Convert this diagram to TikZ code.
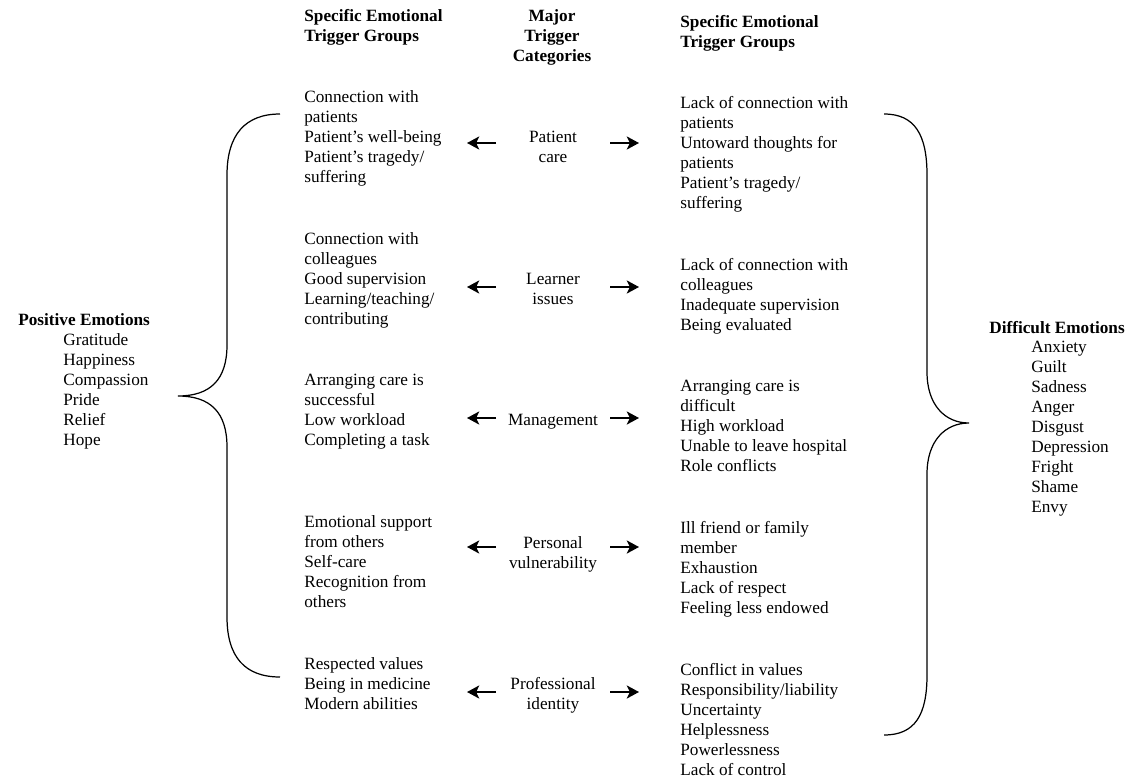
\documentclass[tikz,border=0pt]{standalone}
\usepackage{fontspec}
\setmainfont{Liberation Serif}
\usetikzlibrary{arrows.meta}

\tikzset{
  grp/.style={anchor=north west, align=left, inner sep=0pt, font=\fontsize{9.8}{11.4}\selectfont},
  cat/.style={anchor=north, align=center, inner sep=0pt, font=\fontsize{9.8}{11.4}\selectfont},
  hdr/.style={inner sep=0pt, font=\fontsize{9.8}{11.4}\selectfont\bfseries},
  trig/.style={-{Stealth[length=7pt,width=7.5pt,inset=1.8pt]}, line width=1pt},
  brc/.style={line width=0.7pt}
}

\begin{document}
\begin{tikzpicture}[x=0.02cm,y=-0.02cm]
		\useasboundingbox (0,0) rectangle (1142,781);
		
		% headers
		\node[hdr, anchor=north west, align=left] (hl) at (304,9) {Specific Emotional\\Trigger Groups};
		\node[hdr, anchor=north, align=center] (hm) at (552,9) {Major\\Trigger\\Categories};
		\node[hdr, anchor=north west, align=left] (hr) at (680,15) {Specific Emotional\\Trigger Groups};
		
		% categories
		\node[cat] (pc) at (553,131) {Patient\\care};
		\node[cat] (li) at (553,273) {Learner\\issues};
		\node[cat] (mg) at (553,414) {Management};
		\node[cat] (pv) at (553,536) {Personal\\vulnerability};
		\node[cat] (pi) at (553,677) {Professional\\identity};
		
		% positive side
		\node[grp] (pc-l) at (304,90) {Connection with\\patients\\Patient’s well-being\\Patient’s tragedy/\\suffering};
		\node[grp] (li-l) at (304,232) {Connection with\\colleagues\\Good supervision\\Learning/teaching/\\contributing};
		\node[grp] (mg-l) at (304,374) {Arranging care is\\successful\\Low workload\\Completing a task};
		\node[grp] (pv-l) at (304,515) {Emotional support\\from others\\Self-care\\Recognition from\\others};
		\node[grp] (pi-l) at (304,657) {Respected values\\Being in medicine\\Modern abilities};
		
		% difficult side
		\node[grp] (pc-r) at (680,96) {Lack of connection with\\patients\\Untoward thoughts for\\patients\\Patient’s tragedy/\\suffering};
		\node[grp] (li-r) at (680,258) {Lack of connection with\\colleagues\\Inadequate supervision\\Being evaluated};
		\node[grp] (mg-r) at (680,380) {Arranging care is\\difficult\\High workload\\Unable to leave hospital\\Role conflicts};
		\node[grp] (pv-r) at (680,521) {Ill friend or family\\member\\Exhaustion\\Lack of respect\\Feeling less endowed};
		\node[grp] (pi-r) at (680,663) {Conflict in values\\Responsibility/liability\\Uncertainty\\Helplessness\\Powerlessness\\Lack of control};
		
		% arrows
		\foreach \c/\y in {pc/143,li/287,mg/418,pv/547,pi/692}{
			\coordinate (\c-a) at (496,\y);
			\coordinate (\c-b) at (467,\y);
			\coordinate (\c-c) at (610,\y);
			\coordinate (\c-d) at (639,\y);
			\draw[trig] (\c-a)--(\c-b);
			\draw[trig] (\c-c)--(\c-d);
		}
		
		% emotions
		\node[hdr, anchor=north west] (pos) at (18,313) {Positive Emotions};
		\node[grp] (posl) at (63,333) {Gratitude\\Happiness\\Compassion\\Pride\\Relief\\Hope};
		\node[hdr, anchor=north west] (dif) at (989,321) {Difficult Emotions};
		\node[grp] (difl) at (1031,341) {Anxiety\\Guilt\\Sadness\\Anger\\Disgust\\Depression\\Fright\\Shame\\Envy};
		
		% braces
		\coordinate (lbT) at (280,114);
		\coordinate (lbM) at (178,396);
		\coordinate (lbB) at (280,677);
		\draw[brc] (lbT) .. controls (245,114) and (227,135) .. (227,175) -- (227,345)
			.. controls (227,380) and (210,396) .. (lbM)
			.. controls (210,396) and (227,412) .. (227,447) -- (227,617)
			.. controls (227,657) and (245,677) .. (lbB);
		
		\coordinate (rbT) at (884,114);
		\coordinate (rbM) at (969,423);
		\coordinate (rbB) at (884,735);
		\draw[brc] (rbT) .. controls (915,114) and (927,135) .. (927,175) -- (927,372)
			.. controls (927,405) and (945,423) .. (rbM)
			.. controls (945,423) and (927,441) .. (927,474) -- (927,675)
			.. controls (927,715) and (915,735) .. (rbB);
		
\end{tikzpicture}
\end{document}
